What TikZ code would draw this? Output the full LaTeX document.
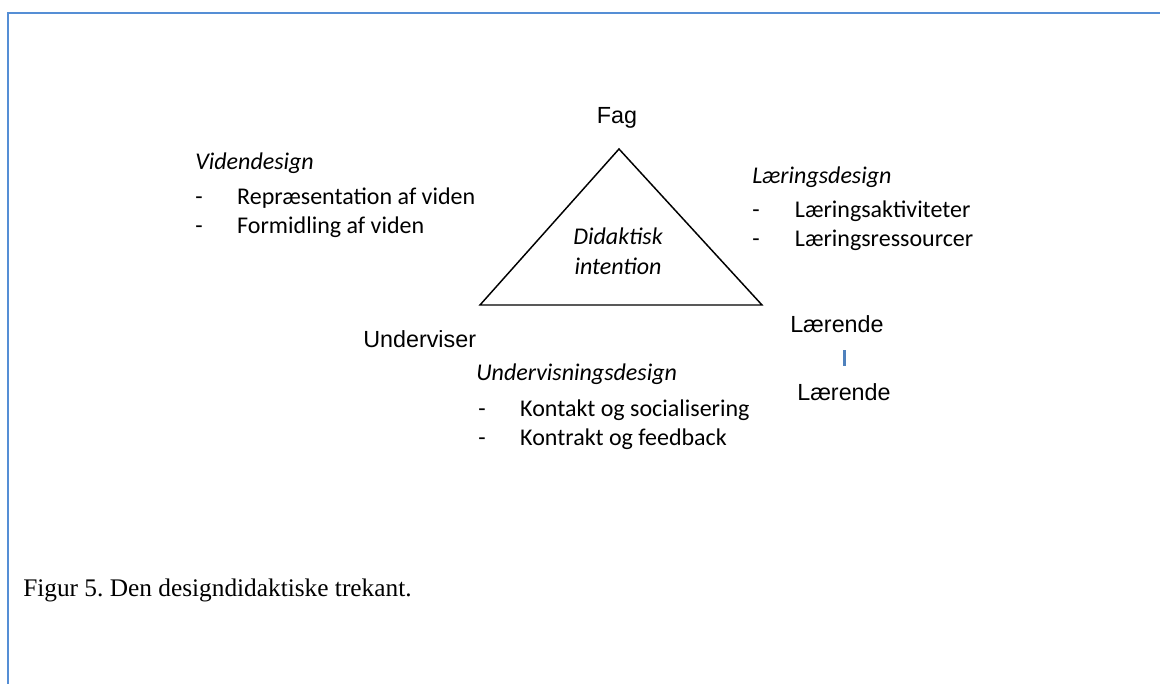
\documentclass[tikz,border=0pt]{standalone}
\usepackage{fontspec}
\setmainfont{Liberation Sans}
\newfontfamily\calfont{Carlito}
\newfontfamily\capfont{Liberation Serif}
\usepackage{tikz}
\usetikzlibrary{positioning}
\definecolor{frameblue}{RGB}{85,142,213}
\definecolor{barblue}{RGB}{79,129,189}
\frenchspacing

\begin{document}
\begin{tikzpicture}[
    x=0.75pt, y=-0.75pt,
    corner/.style={font=\fontsize{17.5}{21}\selectfont, anchor=base west, inner sep=0pt},
    head/.style={font=\calfont\itshape\fontsize{18}{22}\selectfont, anchor=base west, inner sep=0pt},
    item/.style={font=\calfont\fontsize{18}{22}\selectfont, anchor=base west, inner sep=0pt},
    intent/.style={font=\calfont\itshape\fontsize{18}{22}\selectfont, anchor=base, inner sep=0pt},
    frame/.style={draw=frameblue, line width=1.6pt},
]
    \useasboundingbox (0,0) rectangle (1160,684);
    % frame
    \draw[frame] (8,684) -- (8,13) -- (1160,13);

    % triangle
    \coordinate (top) at (619,149);
    \coordinate (left) at (480,305);
    \coordinate (right) at (762,305);
    \draw[line width=1.1pt, line join=miter] (top) -- (left) -- (right) -- cycle;
    \node[intent] (did) at (618,245) {Didaktisk};
    \node[intent] (int) at (618,275) {intention};

    % corners
    \node[corner, anchor=base] (fag) at (617,124) {Fag};
    \node[corner] (und) at (363,347) {Underviser};
    \node[corner] (laer1) at (790,333) {Lærende};
    \node[corner] (laer2) at (797,400) {Lærende};
    \coordinate (bartop) at (844.5,350);
    \coordinate (barbot) at (844.5,366);
    \draw[barblue, line width=2.2pt] (bartop) -- (barbot);

    % Videndesign
    \node[head] (viden) at (195,170) {Videndesign};
    \node[item] (v1) at (195,205) {\makebox[31.5pt][l]{-}Repræsentation af viden};
    \node[item] (v2) at (195,234) {\makebox[31.5pt][l]{-}Formidling af viden};

    % Læringsdesign
    \node[head] (laering) at (752,184) {Læringsdesign};
    \node[item] (l1) at (752,218) {\makebox[32pt][l]{-}Læringsaktiviteter};
    \node[item] (l2) at (752,247) {\makebox[32pt][l]{-}Læringsressourcer};

    % Undervisningsdesign
    \node[head] (undv) at (476,380) {Undervisningsdesign};
    \node[item] (u1) at (478,416) {\makebox[31.5pt][l]{-}Kontakt og socialisering};
    \node[item] (u2) at (478,445) {\makebox[31.5pt][l]{-}Kontrakt og feedback};

    % caption
    \node[anchor=base west, inner sep=0pt, font=\capfont\fontsize{19}{23}\selectfont] (cap) at (23,596) {Figur 5. Den designdidaktiske trekant.};
\end{tikzpicture}
\end{document}
